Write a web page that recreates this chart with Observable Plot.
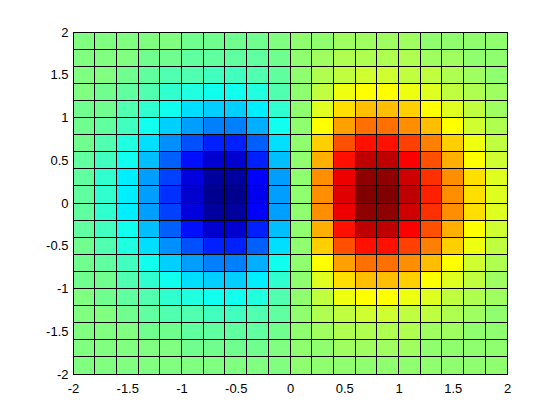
<!DOCTYPE html>
<html>
<head>
<meta charset="utf-8">
<script src="https://cdn.jsdelivr.net/npm/d3@7"></script>
<script src="https://cdn.jsdelivr.net/npm/@observablehq/plot@0.6"></script>
<style>
  html, body { margin: 0; padding: 0; background: #fff; }
  #chart svg { display: block; }
</style>
</head>
<body>
<div id="chart"></div>
<script>
// Cell edges (grid vertices) along x and y
const xEdges = [-2, -1.8, -1.6, -1.4, -1.2, -1, -0.8, -0.6, -0.4, -0.2, 0, 0.2, 0.4, 0.6, 0.8, 1, 1.2, 1.4, 1.6, 1.8, 2];
const yEdges = [-2, -1.8, -1.6, -1.4, -1.2, -1, -0.8, -0.6, -0.4, -0.2, 0, 0.2, 0.4, 0.6, 0.8, 1, 1.2, 1.4, 1.6, 1.8, 2];

// Tick values and labels
const xTicks = [-2, -1.5, -1, -0.5, 0, 0.5, 1, 1.5, 2];
const xTickLabels = ["-2", "-1.5", "-1", "-0.5", "0", "0.5", "1", "1.5", "2"];
const yTicks = [-2, -1.5, -1, -0.5, 0, 0.5, 1, 1.5, 2];
const yTickLabels = ["-2", "-1.5", "-1", "-0.5", "0", "0.5", "1", "1.5", "2"];

// Cell values, one row per y (bottom row first), one column per x (left first)
const Z = [
  [-0.0007,-0.0013,-0.0023,-0.0036,-0.0052,-0.0067,-0.0077,-0.0077,-0.0062,-0.0035,0,0.0035,0.0062,0.0077,0.0077,0.0067,0.0052,0.0036,0.0023,0.0013],
  [-0.0014,-0.0028,-0.0048,-0.0077,-0.0111,-0.0144,-0.0165,-0.0164,-0.0134,-0.0075,0,0.0075,0.0134,0.0164,0.0165,0.0144,0.0111,0.0077,0.0048,0.0028],
  [-0.0028,-0.0054,-0.0096,-0.0152,-0.0220,-0.0284,-0.0326,-0.0324,-0.0264,-0.0149,0,0.0149,0.0264,0.0324,0.0326,0.0284,0.0220,0.0152,0.0096,0.0054],
  [-0.0052,-0.0099,-0.0174,-0.0278,-0.0401,-0.0518,-0.0594,-0.0590,-0.0480,-0.0271,0,0.0271,0.0480,0.0590,0.0594,0.0518,0.0401,0.0278,0.0174,0.0099],
  [-0.0087,-0.0167,-0.0293,-0.0467,-0.0674,-0.0872,-0.0999,-0.0992,-0.0808,-0.0455,0,0.0455,0.0808,0.0992,0.0999,0.0872,0.0674,0.0467,0.0293,0.0167],
  [-0.0135,-0.0259,-0.0455,-0.0725,-0.1046,-0.1353,-0.1552,-0.1540,-0.1254,-0.0707,0,0.0707,0.1254,0.1540,0.1552,0.1353,0.1046,0.0725,0.0455,0.0259],
  [-0.0193,-0.0372,-0.0652,-0.1040,-0.1499,-0.1940,-0.2224,-0.2207,-0.1798,-0.1013,0,0.1013,0.1798,0.2207,0.2224,0.1940,0.1499,0.1040,0.0652,0.0372],
  [-0.0255,-0.0492,-0.0863,-0.1376,-0.1984,-0.2567,-0.2943,-0.2921,-0.2378,-0.1341,0,0.1341,0.2378,0.2921,0.2943,0.2567,0.1984,0.1376,0.0863,0.0492],
  [-0.0312,-0.0601,-0.1054,-0.1680,-0.2423,-0.3135,-0.3594,-0.3567,-0.2905,-0.1638,0,0.1638,0.2905,0.3567,0.3594,0.3135,0.2423,0.1680,0.1054,0.0601],
  [-0.0352,-0.0677,-0.1188,-0.1895,-0.2732,-0.3535,-0.4053,-0.4022,-0.3275,-0.1847,0,0.1847,0.3275,0.4022,0.4053,0.3535,0.2732,0.1895,0.1188,0.0677],
  [-0.0366,-0.0705,-0.1237,-0.1972,-0.2843,-0.3679,-0.4218,-0.4186,-0.3409,-0.1922,0,0.1922,0.3409,0.4186,0.4218,0.3679,0.2843,0.1972,0.1237,0.0705],
  [-0.0352,-0.0677,-0.1188,-0.1895,-0.2732,-0.3535,-0.4053,-0.4022,-0.3275,-0.1847,0,0.1847,0.3275,0.4022,0.4053,0.3535,0.2732,0.1895,0.1188,0.0677],
  [-0.0312,-0.0601,-0.1054,-0.1680,-0.2423,-0.3135,-0.3594,-0.3567,-0.2905,-0.1638,0,0.1638,0.2905,0.3567,0.3594,0.3135,0.2423,0.1680,0.1054,0.0601],
  [-0.0255,-0.0492,-0.0863,-0.1376,-0.1984,-0.2567,-0.2943,-0.2921,-0.2378,-0.1341,0,0.1341,0.2378,0.2921,0.2943,0.2567,0.1984,0.1376,0.0863,0.0492],
  [-0.0193,-0.0372,-0.0652,-0.1040,-0.1499,-0.1940,-0.2224,-0.2207,-0.1798,-0.1013,0,0.1013,0.1798,0.2207,0.2224,0.1940,0.1499,0.1040,0.0652,0.0372],
  [-0.0135,-0.0259,-0.0455,-0.0725,-0.1046,-0.1353,-0.1552,-0.1540,-0.1254,-0.0707,0,0.0707,0.1254,0.1540,0.1552,0.1353,0.1046,0.0725,0.0455,0.0259],
  [-0.0087,-0.0167,-0.0293,-0.0467,-0.0674,-0.0872,-0.0999,-0.0992,-0.0808,-0.0455,0,0.0455,0.0808,0.0992,0.0999,0.0872,0.0674,0.0467,0.0293,0.0167],
  [-0.0052,-0.0099,-0.0174,-0.0278,-0.0401,-0.0518,-0.0594,-0.0590,-0.0480,-0.0271,0,0.0271,0.0480,0.0590,0.0594,0.0518,0.0401,0.0278,0.0174,0.0099],
  [-0.0028,-0.0054,-0.0096,-0.0152,-0.0220,-0.0284,-0.0326,-0.0324,-0.0264,-0.0149,0,0.0149,0.0264,0.0324,0.0326,0.0284,0.0220,0.0152,0.0096,0.0054],
  [-0.0014,-0.0028,-0.0048,-0.0077,-0.0111,-0.0144,-0.0165,-0.0164,-0.0134,-0.0075,0,0.0075,0.0134,0.0164,0.0165,0.0144,0.0111,0.0077,0.0048,0.0028]
];

// MATLAB-style jet colormap with m entries
function jet(m) {
  const n = Math.ceil(m / 4);
  const u = [];
  for (let k = 1; k <= n; k++) u.push(k / n);
  for (let k = 1; k < n; k++) u.push(1);
  for (let k = n; k >= 1; k--) u.push(k / n);
  const g0 = Math.ceil(n / 2) - (m % 4 === 1 ? 1 : 0);
  const R = new Array(m).fill(0), G = new Array(m).fill(0), B = new Array(m).fill(0);
  u.forEach((v, k) => {
    const gi = g0 + k + 1, ri = gi + n, bi = gi - n;
    if (gi >= 1 && gi <= m) G[gi - 1] = v;
    if (ri >= 1 && ri <= m) R[ri - 1] = v;
    if (bi >= 1 && bi <= m) B[bi - 1] = v;
  });
  return d3.range(m).map(i => d3.rgb(R[i] * 255, G[i] * 255, B[i] * 255).formatHex());
}

const M = 64;
const jetColors = jet(M);
const flat = Z.flat();
const cmin = d3.min(flat), cmax = d3.max(flat);
const bin = z => Math.max(0, Math.min(M - 1, Math.floor((z - cmin) / (cmax - cmin) * M)));

const cells = [];
for (let j = 0; j < Z.length; j++) {
  for (let i = 0; i < Z[j].length; i++) {
    cells.push({x1: xEdges[i], x2: xEdges[i + 1], y1: yEdges[j], y2: yEdges[j + 1], z: Z[j][i], b: bin(Z[j][i])});
  }
}

const chart = Plot.plot({
  width: 560,
  height: 420,
  marginLeft: 73,
  marginRight: 53,
  marginTop: 32,
  marginBottom: 46,
  style: {fontFamily: "'Liberation Sans', Arial, sans-serif", fontSize: "13px", color: "black", background: "white"},
  x: {domain: [-2, 2]},
  y: {domain: [-2, 2]},
  color: {type: "ordinal", domain: d3.range(M), range: jetColors},
  marks: [
    Plot.rect(cells, {x1: "x1", x2: "x2", y1: "y1", y2: "y2", fill: "b", stroke: "black", strokeWidth: 1, shapeRendering: "crispEdges"}),
    Plot.frame({stroke: "black", strokeWidth: 1, shapeRendering: "crispEdges"}),
    Plot.axisX({ticks: xTicks, tickSize: 0, tickPadding: 9, tickFormat: d => xTickLabels[xTicks.indexOf(d)], fontSize: 13, label: null}),
    Plot.axisY({ticks: yTicks, tickSize: 0, tickPadding: 5, tickFormat: d => yTickLabels[yTicks.indexOf(d)], fontSize: 13, label: null})
  ]
});
document.getElementById("chart").appendChild(chart);
</script>
</body>
</html>
